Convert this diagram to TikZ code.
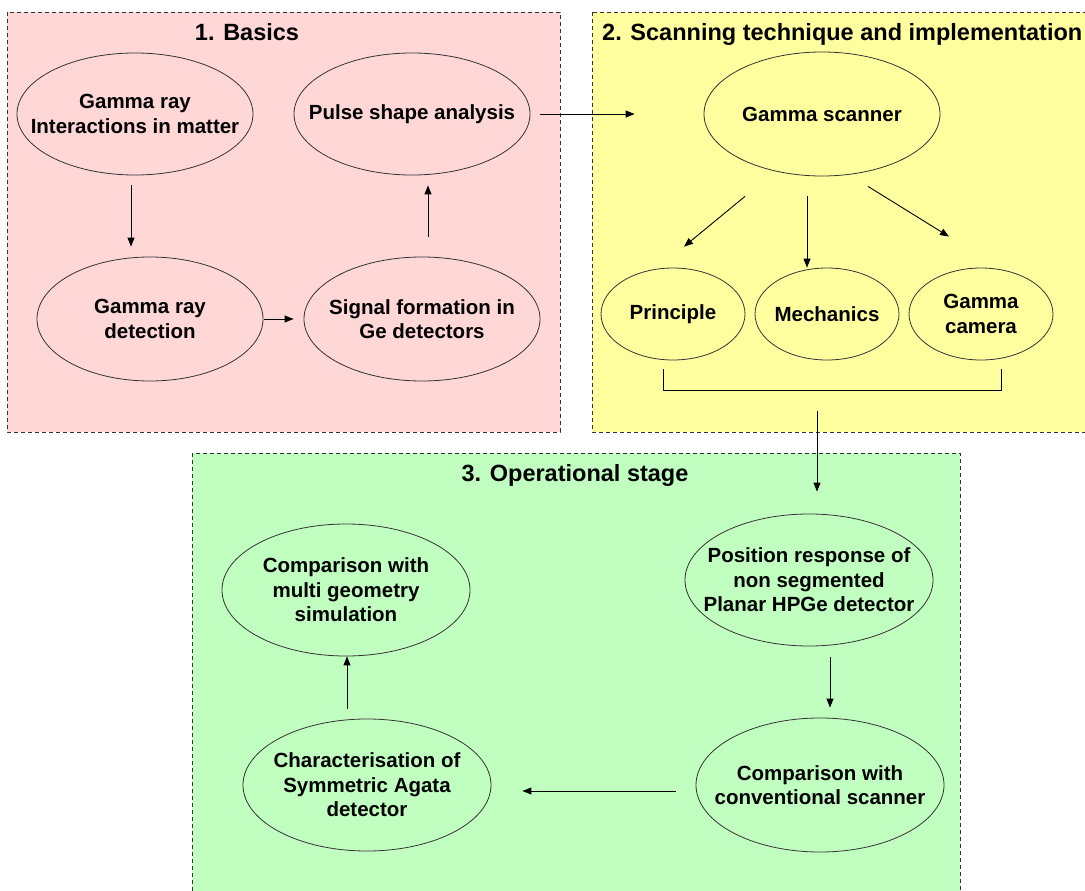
\documentclass[tikz,border=0pt]{standalone}
\usepackage{fontspec}
\setmainfont{Liberation Sans}
\usetikzlibrary{arrows.meta,shapes.geometric}
\definecolor{basicspink}{RGB}{255,215,215}
\definecolor{scanyellow}{RGB}{255,255,160}
\definecolor{opgreen}{RGB}{192,255,192}
\tikzset{
  arr/.style={-{Triangle[length=9pt,width=7pt]}, line width=0.9pt},
  panel/.style={draw=black!80, dash pattern=on 4pt off 3pt, line width=0.9pt},
  ttl/.style={font=\fontsize{23.5}{27}\selectfont\bfseries, anchor=base},
  etxt/.style={font=\fontsize{20.5}{24.5}\selectfont\bfseries, align=center},
  ebox/.style={draw=black!80, ellipse, line width=0.8pt, inner sep=0pt},
  big/.style={minimum width=236pt, minimum height=122pt},
  small/.style={minimum width=144pt, minimum height=92pt},
  wide/.style={minimum width=248pt, minimum height=132pt},
}

\begin{document}
\begin{tikzpicture}[x=1pt, y=-1pt]
\clip (0,0) rectangle (1085,891);

\filldraw[panel, fill=basicspink] (7,12)    rectangle (560,432);
\filldraw[panel, fill=scanyellow] (592,12)  rectangle (1095,432);
\filldraw[panel, fill=opgreen]    (192,453) rectangle (960,900);

\node[ttl] (basics) at (247,41) {1. Basics};
\node[ttl, anchor=base west, inner xsep=0pt] (scanning) at (602,41) {2. Scanning technique and implementation};
\node[ttl] (operational) at (575,481) {3. Operational stage};

\node[ebox, big, label={[etxt]center:Gamma ray\\Interactions in matter}] (interact) at (135,114) {};
\node[ebox, big, label={[etxt]center:Pulse shape analysis}] (pulse) at (412,114) {};
\node[ebox, big, minimum width=226pt, minimum height=124pt,
      label={[etxt]center:Gamma ray\\detection}] (detect) at (150,319) {};
\node[ebox, big, minimum height=124pt,
      label={[etxt]center:Signal formation in\\Ge detectors}] (signal) at (422,319) {};

\node[ebox, big, minimum height=124pt, label={[etxt]center:Gamma scanner}] (scanner) at (822,114) {};
\node[ebox, small, label={[etxt]center:Principle}] (principle) at (673,314) {};
\node[ebox, small, label={[etxt]center:Mechanics}] (mechanics) at (827,314) {};
\node[ebox, small, label={[etxt]center:Gamma\\camera}] (camera) at (981,314) {};

\node[ebox, wide, label={[etxt]center:Position response of\\non segmented\\Planar HPGe detector}] (position) at (809,580) {};
\node[ebox, wide, minimum height=134pt,
      label={[etxt]center:Comparison with\\conventional scanner}] (conventional) at (820,785) {};
\node[ebox, wide, label={[etxt]center:Comparison with\\multi geometry\\simulation}] (simul) at (346,590) {};
\node[ebox, wide, label={[etxt]center:Characterisation of\\Symmetric Agata\\detector}] (agata) at (367,785) {};

\coordinate (join) at (817,411);

\draw[arr] ([shift={(-4,10)}]interact.south) -- ([shift={(-19,-10)}]detect.north);
\draw[arr] ([shift={(1,0)}]detect.east) -- ([shift={(-10,0)}]signal.west);
\draw[arr] ([shift={(6,-20)}]signal.north) -- ([shift={(16,10)}]pulse.south);
\draw[arr] ([shift={(10,0)}]pulse.east) -- ([shift={(-69,0)}]scanner.west);

\draw[arr] ([shift={(-77,20)}]scanner.south) -- ([shift={(11,-21)}]principle.north);
\draw[arr] ([shift={(-15,20)}]scanner.south) -- ([shift={(-20,0)}]mechanics.north);
\draw[arr] ([shift={(46,10)}]scanner.south) -- ([shift={(-32,-31)}]camera.north);
\draw[line width=0.9pt] ([shift={(-10,9)}]principle.south) -- ++(0,21) -| ([shift={(20,9)}]camera.south);
\draw[arr, shorten >=22pt] (join) -- (join |- position.north);

\draw[arr] ([shift={(21,11)}]position.south) -- ([shift={(10,-10)}]conventional.north);
\draw[arr] ([shift={(-20,6)}]conventional.west) -- ([shift={(31,6)}]agata.east);
\draw[arr] ([shift={(-20,-10)}]agata.north) -- ([shift={(1,0)}]simul.south);
\end{tikzpicture}
\end{document}
